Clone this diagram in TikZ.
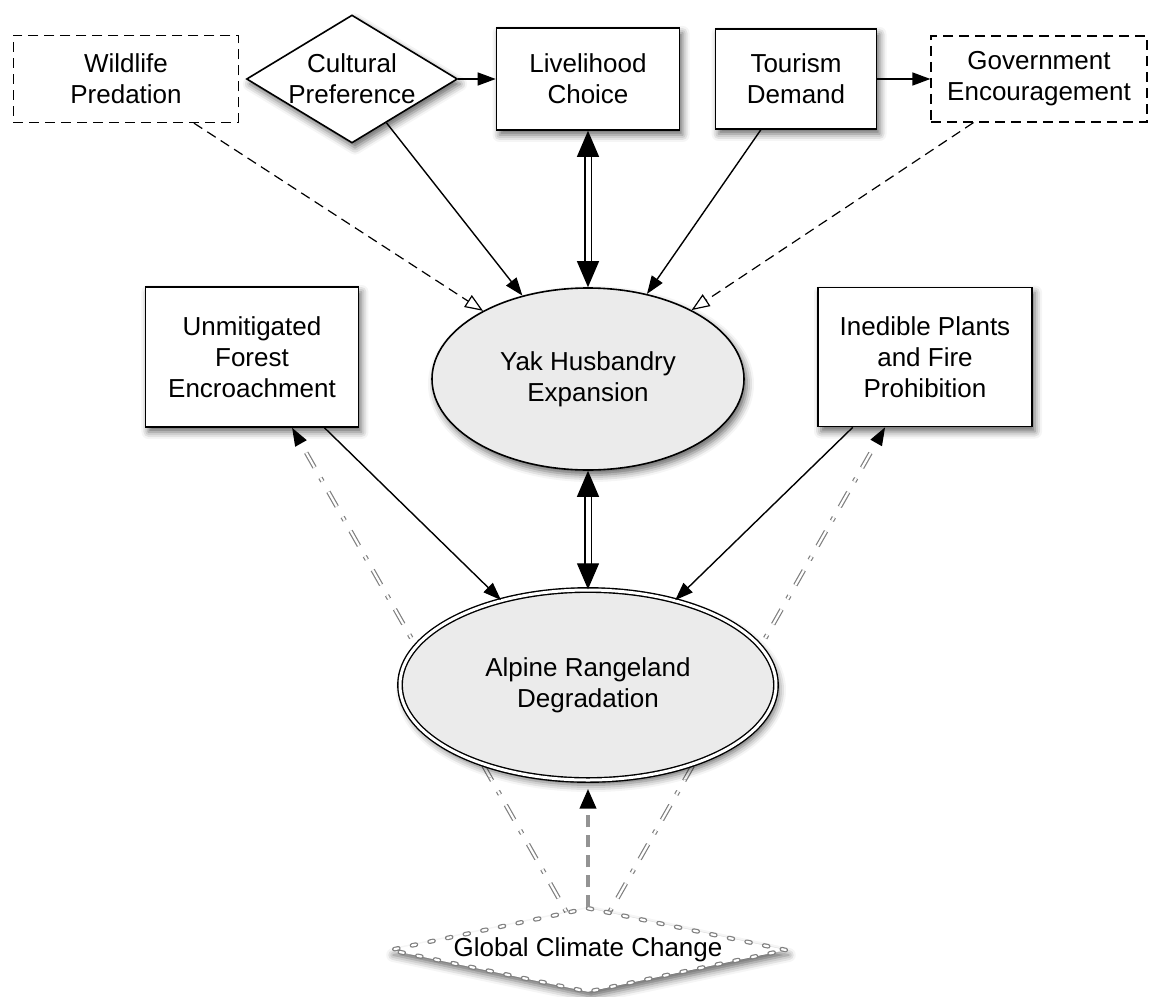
\documentclass[tikz,border=0pt]{standalone}
\usepackage{fontspec}
\setmainfont{Liberation Sans}
\usetikzlibrary{arrows.meta, positioning, shapes.geometric, shadows.blur, backgrounds}

\begin{document}
\begin{tikzpicture}[on grid, font=\fontsize{13}{15.5}\selectfont, >={Triangle[length=9pt,width=6.5pt]}]
    \tikzstyle{soft}=[blur shadow={shadow xshift=1.5pt, shadow yshift=-2.5pt, shadow blur radius=3.5pt, shadow opacity=60}]
    \tikzstyle{factor}=[rectangle, draw, line width=0.8pt, fill=white, align=center, soft]
    \tikzstyle{external}=[rectangle, draw, line width=0.6pt, dash pattern=on 5pt off 3pt, align=center]
    \tikzstyle{driver}=[diamond, draw, line width=0.8pt, fill=white, inner sep=0pt, soft]
    \tikzstyle{outcome}=[ellipse, draw, line width=0.8pt, fill=black!8, align=center, soft]
    \tikzstyle{ringline}=[draw=gray, double=white, line width=0.6pt, double distance=1.1pt]
    \tikzstyle{twin}=[draw, double=white, line width=0.6pt, double distance=2.5pt]

    \useasboundingbox (-294pt,189.5pt) rectangle (283pt,-308.5pt);

    \node[outcome, minimum width=156pt, minimum height=91pt] (yak) {Yak Husbandry\\Expansion};
    \node[factor, minimum width=91.5pt, minimum height=51pt, above=150pt of yak] (live) {Livelihood\\Choice};
    \node[driver, minimum width=105.5pt, minimum height=64pt, left=118pt of live,
          label={[align=center]center:Cultural\\Preference}] (cult) {};
    \node[external, minimum width=112.5pt, minimum height=43.5pt, left=113pt of cult] (wild) {Wildlife\\Predation};
    \node[factor, minimum width=80.5pt, minimum height=50pt, right=104pt of live] (tour) {Tourism\\Demand};
    \node[external, minimum width=108pt, minimum height=43pt, right=121.5pt of tour] (gov) {Government\\Encouragement};
    \node[factor, minimum width=106.5pt, minimum height=70pt, above left=11pt and 168pt of yak] (forest) {Unmitigated\\Forest\\Encroachment};
    \node[factor, minimum width=107pt, minimum height=69.5pt, above right=11pt and 168.5pt of yak] (plants) {Inedible Plants\\and Fire\\Prohibition};
    \node[outcome, double, double distance=1.5pt, line width=0.7pt, minimum width=188pt, minimum height=95pt,
          below=153pt of yak] (alp) {Alpine Rangeland\\Degradation};
    \node[driver, ringline, dash pattern=on 2pt off 7pt, line cap=round, minimum width=198pt, minimum height=42pt,
          below=132.5pt of alp, label=center:Global Climate Change] (climate) {};

    \path[->, draw, line width=0.7pt]
    (cult) edge (live)
    (tour) edge (gov)
    (cult) edge (yak)
    (tour) edge (yak)
    (forest) edge (alp)
    (plants) edge (alp)
    ;

    \path[-{Triangle[length=9pt,width=7pt,fill=white]}, draw, line width=0.6pt, dash pattern=on 5pt off 3pt]
    (wild) edge (yak)
    (gov) edge (yak)
    ;

    \path[{Triangle[length=13pt,width=11pt]}-{Triangle[length=13pt,width=11pt]}]
    (live) edge[twin] (yak)
    (yak) edge[twin] (alp)
    ;

    \path[-{Triangle[length=10pt,width=8pt,black]}, draw=gray!85, line width=2pt, dash pattern=on 6pt off 4pt, shorten >=4pt]
    (climate) edge (alp);

    % lines passing behind the rangeland ellipse
    \begin{scope}[on background layer]
    \path[-{Triangle[length=9pt,width=6.5pt,black]}, dash pattern=on 2pt off 6pt on 8.5pt off 6pt]
    (climate) edge[ringline] (forest)
    (climate) edge[ringline] (plants)
    ;
    \end{scope}
\end{tikzpicture}
\end{document}
